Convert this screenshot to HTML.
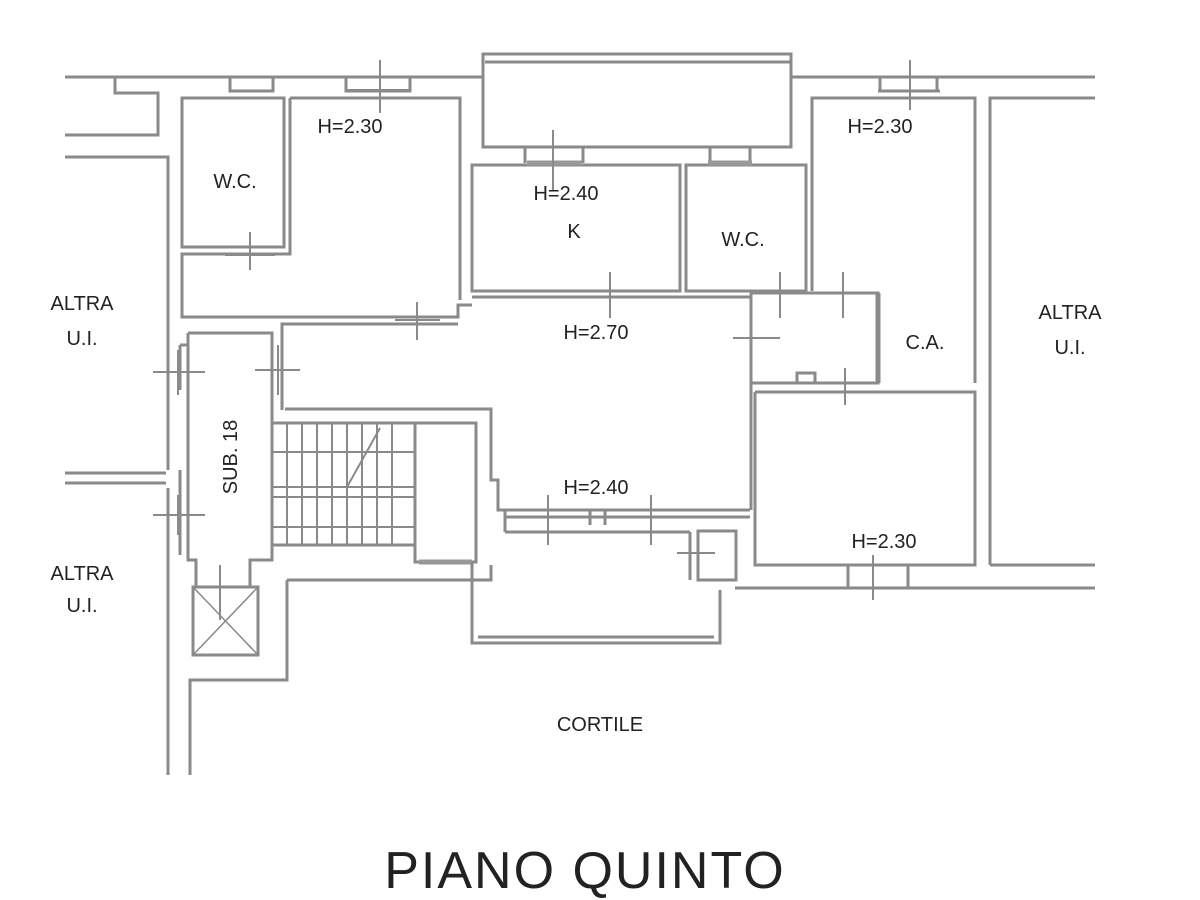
<!DOCTYPE html>
<html><head><meta charset="utf-8"><style>
html,body{margin:0;padding:0;background:#fff;width:1200px;height:900px;overflow:hidden}
svg{display:block}
text{font-family:"Liberation Sans",sans-serif;fill:#222}
</style></head><body>
<svg width="1200" height="900" viewBox="0 0 1200 900">
<g stroke="#8a8a8a" stroke-width="3" fill="none">
<path d="M65 77 H484 M791 77 H1095"/>
<path d="M115 77 V93 H158 V135 H65"/>
<path d="M65 157 H168 V470"/>
<path d="M65 473 H166 M65 483 H166"/>
<path d="M168 488 V775"/>
<rect x="483" y="54" width="308" height="93"/>
<path d="M485 62 H790"/>
<rect x="182" y="98" width="102" height="149"/>
<path d="M230 77 V91 H273 V77 M346 77 V91 H410 V77"/>
<path d="M290 98 H460 V300 M290 98 V254 H182 V317 H458 V305 H472"/>
<path d="M282 410 V324 H458"/>
<rect x="472" y="165" width="208" height="126"/>
<rect x="686" y="165" width="120" height="126"/>
<path d="M525 147 V163 M583 147 V163 M710 147 V163 M750 147 V163"/>
<path d="M527 163 H582 M708 163 H752" stroke-width="5" stroke="#999"/>
<path d="M812 291 V98 H975 V383"/>
<path d="M880 77 V91 H937 V77 M878 91 H940"/>
<path d="M472 297 H751 V510"/>
<rect x="751" y="293" width="127" height="90"/>
<path d="M878 293 V383" stroke-width="5"/>
<path d="M797 383 V373 H815 V383"/>
<path d="M755 392 H975 V565 H755 V392"/>
<path d="M990 565 V98 H1095 M990 565 H1095"/>
<path d="M735 588 H1095"/>
<path d="M848 565 V588 M908 565 V588"/>
<path d="M188 333 H272 V425 M188 333 V560 H196 V587 M272 545 V560 H250 V587"/>
<path d="M180 345 H188 M180 345 V390 M180 470 V555"/>
<rect x="272" y="423" width="143" height="122"/>
<g stroke-width="2">
<path d="M287 423 V545 M302 423 V545 M317 423 V545 M332 423 V545 M347 423 V545 M362 423 V545 M377 423 V545 M392 423 V545"/>
<path d="M272 452 H415 M272 487 H415 M272 497 H415 M272 527 H415"/>
<path d="M347 487 L380 428"/>
</g>
<rect x="415" y="423" width="61" height="139"/>
<path d="M419 562 H472" stroke-width="5" stroke="#999"/>
<path d="M285 409 H491 V480 H498 V510 H750"/>
<path d="M287 580 H472 M472 562 V580 H491 V565"/>
<path d="M287 580 V680 H190 V775"/>
<path d="M505 517 H750 M505 532 H690 M505 510 V532 M590 510 V525 M605 510 V525 M690 532 V580"/>
<path d="M472 580 V643 H720 V590 M478 637 H714"/>
<rect x="698" y="531" width="38" height="49"/>
<rect x="193" y="587" width="65" height="68"/>
<path d="M193 587 L258 655 M258 587 L193 655" stroke-width="1.5"/>
<g stroke-width="2">
<path d="M380 60 V113 M345 90 H410"/>
<path d="M250 232 V270 M225 255 H275"/>
<path d="M417 302 V340 M395 320 H440"/>
<path d="M153 372 H205 M178 350 V395"/>
<path d="M255 370 H300 M278 345 V395"/>
<path d="M153 515 H205 M178 495 V535"/>
<path d="M220 565 V620"/>
<path d="M553 130 V190"/>
<path d="M610 272 V318"/>
<path d="M780 272 V318 M843 272 V318 M733 338 H780"/>
<path d="M910 60 V110"/>
<path d="M845 368 V405"/>
<path d="M548 495 V545 M651 495 V545"/>
<path d="M677 553 H715"/>
<path d="M873 555 V600"/>
</g>
</g>
<g font-size="20" text-anchor="middle">
<text x="82" y="310">ALTRA</text><text x="82" y="345">U.I.</text>
<text x="82" y="580">ALTRA</text><text x="82" y="612">U.I.</text>
<text x="1070" y="319">ALTRA</text><text x="1070" y="354">U.I.</text>
<text x="235" y="188">W.C.</text>
<text x="350" y="133">H=2.30</text>
<text x="566" y="200">H=2.40</text>
<text x="574" y="238">K</text>
<text x="743" y="246">W.C.</text>
<text x="880" y="133">H=2.30</text>
<text x="596" y="339">H=2.70</text>
<text x="925" y="349">C.A.</text>
<text x="596" y="494">H=2.40</text>
<text x="884" y="548">H=2.30</text>
<text x="600" y="731">CORTILE</text>
<text x="237" y="457" transform="rotate(-90 237 457)">SUB. 18</text>
<text x="585" y="888" font-size="52" letter-spacing="2">PIANO QUINTO</text>
</g>
</svg>
</body></html>
